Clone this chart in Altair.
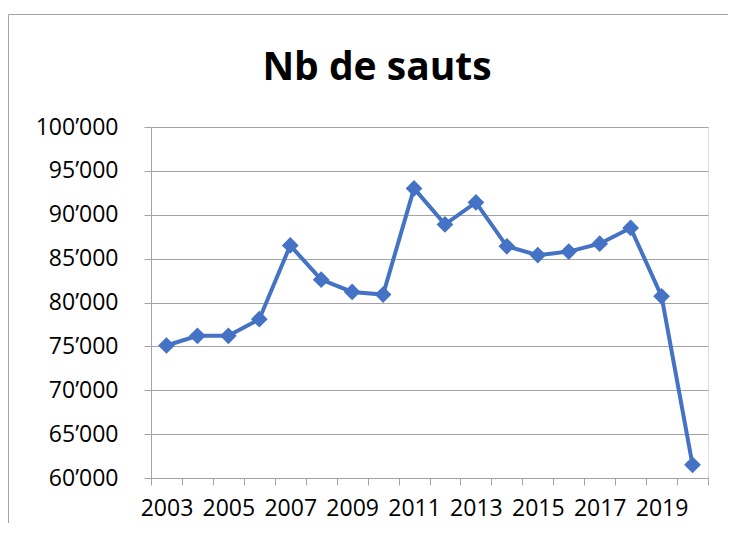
import altair as alt
import pandas as pd

years = [str(y) for y in range(2003, 2021)]
sauts = [75100, 76200, 76200, 78100, 86500, 82600, 81200, 80900, 93000,
         88900, 91400, 86400, 85400, 85800, 86700, 88500, 80700, 61500]
y_ticks = [60000, 65000, 70000, 75000, 80000, 85000, 90000, 95000, 100000]
title_text = "Nb de sauts"

df = pd.DataFrame({"annee": years, "sauts": sauts})

FONT = "Open Sans"
GRAY = "#a3a3a3"
BLUE = "#4472C4"
W, H = 557, 351
PAD = {"left": 143, "top": 119, "right": 20, "bottom": 45}

x = alt.X("annee:O", title=None, sort=years,
          scale=alt.Scale(paddingInner=0, paddingOuter=0),
          axis=alt.Axis(labelAngle=0, tickBand="extent", labelOverlap=False,
                        labelExpr="toNumber(datum.value) % 2 == 1 ? datum.label : ''",
                        labelFont=FONT, labelFontSize=23, labelColor="#000000",
                        labelPadding=12, tickSize=7, tickColor=GRAY,
                        domainColor=GRAY, grid=False))
y = alt.Y("sauts:Q", title=None,
          scale=alt.Scale(domain=[60000, 100000], nice=False, zero=False),
          axis=alt.Axis(values=y_ticks,
                        labelExpr="replace(format(datum.value, ','), ',', '\u2019')",
                        labelFont=FONT, labelFontSize=23, labelColor="#000000",
                        labelPadding=26, tickSize=7, tickColor=GRAY,
                        domainColor=GRAY, grid=True, gridColor=GRAY, gridWidth=1))

line = alt.Chart(df).mark_line(color=BLUE, strokeWidth=4).encode(x=x, y=y)
pts = alt.Chart(df).mark_point(shape="diamond", filled=True, color=BLUE,
                               size=280, opacity=1).encode(x=x, y=y)

one = pd.DataFrame({"a": [0]})
right_edge = W + PAD["right"]
bottom_edge = H + PAD["bottom"]
border_left = alt.Chart(one).mark_rule(color=GRAY, strokeWidth=1, clip=False).encode(
    x=alt.value(-PAD["left"] + 0.5), x2=alt.value(-PAD["left"] + 0.5),
    y=alt.value(-112.5), y2=alt.value(bottom_edge))
border_top = alt.Chart(one).mark_rule(color=GRAY, strokeWidth=1, clip=False).encode(
    x=alt.value(-PAD["left"] + 0.5), x2=alt.value(right_edge),
    y=alt.value(-112.5), y2=alt.value(-112.5))

title = alt.Chart(pd.DataFrame({"t": [title_text]})).mark_text(
    font=FONT, fontSize=39, fontWeight="bold", color="#000000",
    align="center", baseline="alphabetic", clip=False
).encode(text="t:N", x=alt.value(226), y=alt.value(-47))

chart = alt.layer(border_left, border_top, line, pts, title).properties(
    width=W, height=H, padding=PAD,
    autosize=alt.AutoSizeParams(type="none"),
).configure_view(strokeWidth=0, stroke="transparent").configure(background="white")

chart.save("out.html", embed_options={"renderer": "svg", "actions": False})
